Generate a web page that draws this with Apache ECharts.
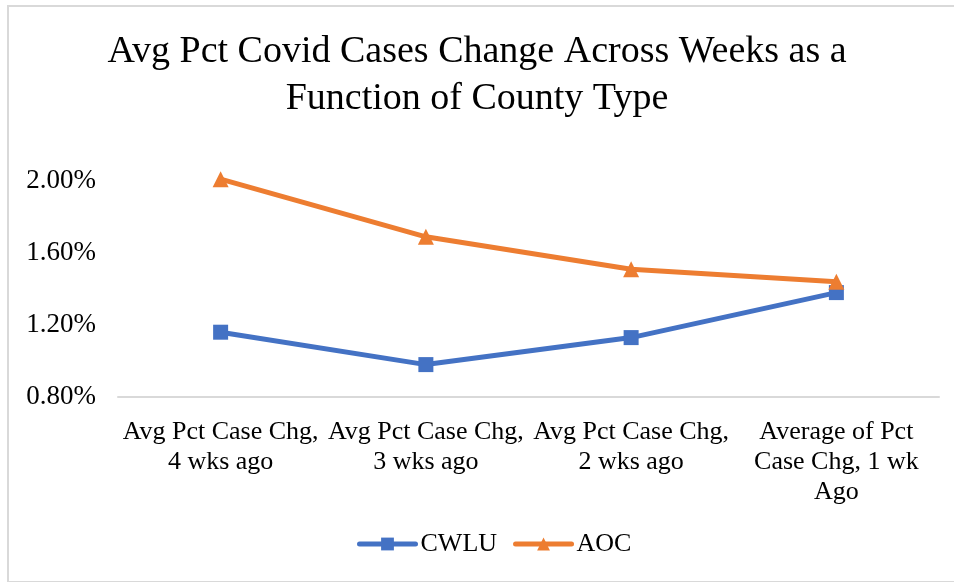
<!DOCTYPE html>
<html>
<head>
<meta charset="utf-8">
<script src="https://cdn.jsdelivr.net/npm/echarts@6/dist/echarts.min.js"></script>
<style>
  html, body { margin: 0; padding: 0; background: #fff; }
  #wrap { position: relative; width: 954px; height: 582px; }
  #chart { width: 954px; height: 582px; }
  #frame {
    position: absolute; left: 7px; top: 5px; width: 960px; height: 574px;
    border: 2px solid #d9d9d9; pointer-events: none;
  }
</style>
</head>
<body>
<div id="wrap">
  <div id="chart"></div>
  <div id="frame"></div>
</div>
<script>
const categories = [
  'Avg Pct Case Chg,\n4 wks ago',
  'Avg Pct Case Chg,\n3 wks ago',
  'Avg Pct Case Chg,\n2 wks ago',
  'Average of Pct\nCase Chg, 1 wk\nAgo'
];
// values in percent
const cwlu = [1.16, 0.98, 1.13, 1.38];
const aoc = [2.01, 1.69, 1.51, 1.44];

const serif = '"Liberation Serif", "Times New Roman", serif';
const chart = echarts.init(document.getElementById('chart'));

chart.setOption({
  animation: false,
  backgroundColor: 'transparent',
  title: {
    text: 'Avg Pct Covid Cases Change Across Weeks as a\nFunction of County Type',
    left: 'center',
    top: 24,
    textStyle: { fontFamily: serif, fontSize: 38, fontWeight: 'normal', color: '#000', lineHeight: 47 }
  },
  legend: {
    bottom: 20,
    left: 352,
    itemWidth: 56,
    itemHeight: 16,
    itemGap: 16,
    lineStyle: { width: 5, cap: 'round' },
    textStyle: { fontFamily: serif, fontSize: 26, color: '#000' },
    data: ['CWLU', 'AOC']
  },
  grid: { left: 118, right: 15, top: 181, bottom: 185 },
  xAxis: {
    type: 'category',
    data: categories,
    boundaryGap: true,
    axisLine: { lineStyle: { color: '#d9d9d9', width: 2 } },
    axisTick: { show: false },
    axisLabel: { fontFamily: serif, fontSize: 26, color: '#000', margin: 20, lineHeight: 30, interval: 0 }
  },
  yAxis: {
    type: 'value',
    min: 0.8,
    max: 2.0,
    interval: 0.4,
    splitLine: { show: false },
    axisLine: { show: false },
    axisTick: { show: false },
    axisLabel: {
      fontFamily: serif, fontSize: 27, color: '#000', margin: 22,
      formatter: v => v.toFixed(2) + '%'
    }
  },
  series: [
    {
      name: 'CWLU',
      type: 'line',
      data: cwlu,
      symbol: 'rect',
      symbolSize: 15,
      clip: false,
      color: '#4472C4',
      lineStyle: { width: 5, color: '#4472C4' },
      itemStyle: { color: '#4472C4' }
    },
    {
      name: 'AOC',
      type: 'line',
      data: aoc,
      symbol: 'triangle',
      symbolSize: 16,
      clip: false,
      color: '#ED7D31',
      lineStyle: { width: 5, color: '#ED7D31' },
      itemStyle: { color: '#ED7D31' }
    }
  ]
});
</script>
</body>
</html>
